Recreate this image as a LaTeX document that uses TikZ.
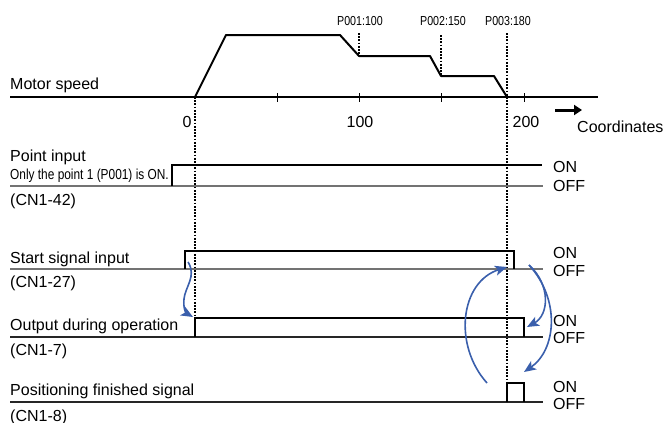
\documentclass[tikz,border=0pt]{standalone}
\usepackage{fontspec}
\setmainfont{Liberation Sans}
\newfontfamily\narrowfont[FakeStretch=0.82]{Liberation Sans}
\usetikzlibrary{arrows.meta}
\definecolor{arrowblue}{RGB}{58,95,172}
\begin{document}
\begin{tikzpicture}[x=1pt,y=-1pt,
  lbl/.style={anchor=base west, inner sep=0pt, font=\fontsize{16}{19}\selectfont},
  num/.style={anchor=base, inner sep=0pt, font=\fontsize{16}{19}\selectfont},
  plbl/.style={anchor=base, inner sep=0pt, font=\narrowfont\fontsize{13}{15}\selectfont},
  nlbl/.style={anchor=base west, inner sep=0pt, font=\narrowfont\fontsize{14.5}{17}\selectfont},
  sig/.style={line width=1.9pt, line join=miter},
  speed/.style={line width=2pt, line join=round},
  offline/.style={line width=1.3pt, draw=black!55},
  offdark/.style={line width=1.3pt, draw=black!85},
  axisline/.style={line width=1.3pt},
  dots/.style={line width=1.7pt, dash pattern=on 1.8pt off 1.4pt},
  flow/.style={draw=arrowblue, line width=1.6pt, -{Stealth[length=12pt,width=10pt,inset=3pt]}}
]
\useasboundingbox (0,0) rectangle (665,423);

% ---------- Motor speed ----------
\node[lbl] (ms) at (10,89) {Motor speed};
\draw[axisline] (10,97) -- (598,97);
\foreach \x in {277,359,441,524} \draw[line width=1pt] (\x,93) -- (\x,102);
\draw[speed] (195,97) -- (226,35) -- (340,35) -- (359,56) -- (430,56) -- (441,76) -- (494,76) -- (507,97);

\node[plbl] (p1) at (360,25) {P001:100};
\node[plbl] (p2) at (443,25) {P002:150};
\node[plbl] (p3) at (508,25) {P003:180};

\draw[dots] (359,33) -- (359,56);
\draw[dots] (441,35) -- (441,76);
\draw[dots] (507,33) -- (507,383);
\draw[dots] (195,97) -- (195,318);

\node[num] (n0) at (187,127) {0};
\node[num] (n100) at (360,127) {100};
\node[num] (n200) at (526,127) {200};
\coordinate (ca) at (555,110);
\coordinate (cb) at (582,110);
\draw[line width=3pt, -{Triangle[length=8pt,width=10pt]}] (ca) -- (cb);
\node[lbl] (coord) at (577,132) {Coordinates};

% ---------- Point input ----------
\node[lbl] (pi) at (10,161) {Point input};
\node[nlbl] (only) at (10,179) {Only the point 1 (P001) is ON.};
\node[lbl] (cn42) at (10,205) {(CN1-42)};
\draw[offline] (10,186) -- (543,186);
\draw[sig] (172,186) -- (172,165) -- (542,165);
\node[lbl] (on1) at (553,172) {ON};
\node[lbl] (off1) at (553,191) {OFF};

% ---------- Start signal input ----------
\node[lbl] (ss) at (10,263) {Start signal input};
\node[lbl] (cn27) at (10,287) {(CN1-27)};
\draw[offline] (10,269) -- (543,269);
\draw[sig] (185,269) -- (185,251) -- (514,251) -- (514,269);
\node[lbl] (on2) at (553,258) {ON};
\node[lbl] (off2) at (553,276) {OFF};

% ---------- Output during operation ----------
\node[lbl] (od) at (10,330) {Output during operation};
\node[lbl] (cn7) at (10,355) {(CN1-7)};
\draw[offdark] (10,337) -- (543,337);
\draw[sig] (195,337) -- (195,318) -- (524,318) -- (524,337);
\node[lbl] (on3) at (553,326) {ON};
\node[lbl] (off3) at (553,343) {OFF};

% ---------- Positioning finished signal ----------
\node[lbl] (pf) at (10,395) {Positioning finished signal};
\node[lbl] (cn8) at (10,421) {(CN1-8)};
\draw[offdark] (10,402) -- (543,402);
\draw[sig] (507,402) -- (507,383) -- (524,383) -- (524,402);
\node[lbl] (on4) at (553,392) {ON};
\node[lbl] (off4) at (553,409) {OFF};

% ---------- blue flow arrows ----------
\coordinate (a1s) at (188,262);
\coordinate (a1m) at (184,299);
\coordinate (a1e) at (193,317);
\draw[flow] (a1s) .. controls (197,276) and (185,287) .. (a1m) .. controls (183,308) and (186,313) .. (a1e);

\coordinate (a2s) at (487,383);
\coordinate (a2e) at (507,267);
\draw[flow] (a2s) .. controls (453,345) and (460,282) .. (a2e);

\coordinate (a3s) at (529,265);
\coordinate (a3e) at (527,327);
\draw[flow] (a3s) .. controls (551,285) and (549,315) .. (a3e);

\coordinate (a4e) at (524,372);
\draw[flow] (a3s) .. controls (561,300) and (556,350) .. (a4e);
\end{tikzpicture}
\end{document}
